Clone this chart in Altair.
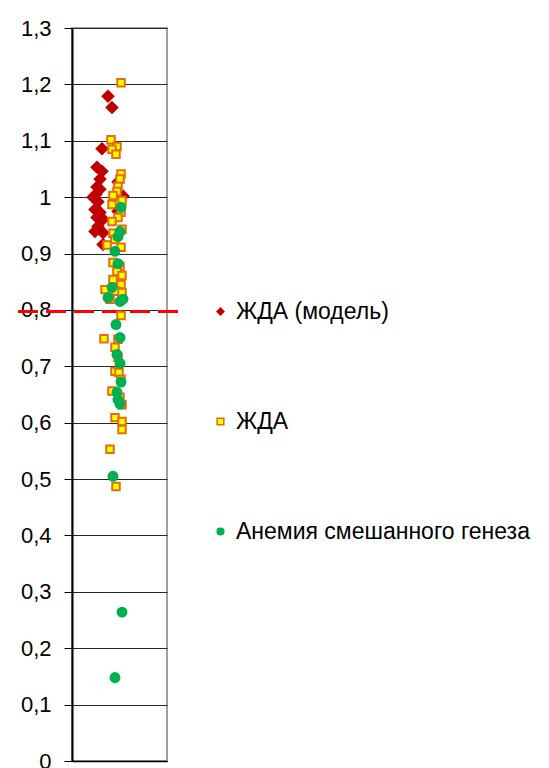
import altair as alt
import pandas as pd

# Series names
series_names = ["ЖДА (модель)", "ЖДА", "Анемия смешанного генеза"]

# ЖДА (модель) — red diamonds
model_x = [0.758, 0.842, 0.632, 0.526, 0.632, 0.589, 0.968, 0.526, 0.589, 0.505, 0.442,
           1.074, 0.547, 0.484, 0.589, 0.968, 0.526, 0.653, 0.547, 0.484, 0.653, 0.653]
model_y = [1.179, 1.159, 1.086, 1.053, 1.046, 1.032, 1.027, 1.018, 1.014, 1.005, 1.000,
           1.002, 0.992, 0.978, 0.973, 0.975, 0.964, 0.961, 0.948, 0.939, 0.937, 0.916]

# ЖДА — yellow squares
ida_x = [1.032, 0.821, 0.947, 0.842, 0.926, 1.032, 1.011, 0.968, 0.947, 0.863, 1.053, 0.842,
         1.032, 0.968, 0.842, 1.053, 0.863, 0.905, 0.737, 1.032, 0.863, 1.011, 0.947, 1.053,
         0.863, 1.032, 0.695, 0.926, 1.053, 0.800, 1.032, 0.674, 0.968, 0.905, 0.968, 0.905,
         0.989, 1.032, 0.842, 1.011, 1.053, 0.905, 1.053, 1.053, 0.800, 0.926]
ida_y = [1.203, 1.102, 1.090, 1.085, 1.076, 1.041, 1.032, 1.019, 1.010, 1.003, 0.994, 0.987,
         0.973, 0.964, 0.957, 0.943, 0.936, 0.925, 0.915, 0.911, 0.884, 0.877, 0.868, 0.861,
         0.854, 0.845, 0.836, 0.833, 0.831, 0.819, 0.790, 0.749, 0.748, 0.734, 0.716, 0.691,
         0.689, 0.677, 0.656, 0.645, 0.632, 0.609, 0.602, 0.588, 0.553, 0.487]

# Анемия смешанного генеза — green circles
mixed_x = [1.032, 1.011, 0.968, 0.905, 0.968, 0.842, 0.758, 1.011, 1.074, 0.926, 1.011,
           0.947, 1.011, 1.032, 0.947, 0.968, 1.011, 0.863, 1.053, 0.905]
mixed_y = [0.982, 0.939, 0.930, 0.904, 0.882, 0.840, 0.822, 0.815, 0.819, 0.774, 0.751,
           0.721, 0.705, 0.672, 0.654, 0.641, 0.633, 0.505, 0.264, 0.148]

# Threshold line
threshold = 0.797

# Y tick values
y_ticks = [0, 0.1, 0.2, 0.3, 0.4, 0.5, 0.6, 0.7, 0.8, 0.9, 1.0, 1.1, 1.2, 1.3]

font = "Liberation Sans"

xscale = alt.Scale(domain=[0, 2])
yscale = alt.Scale(domain=[0, 1.3], nice=False, zero=True)
fill_scale = alt.Scale(domain=series_names, range=["#C00000", "#FFFF00", "#00B050"])
stroke_scale = alt.Scale(domain=series_names, range=["#C00000", "#E46C0A", "#00B050"])
shape_scale = alt.Scale(domain=series_names, range=["diamond", "square", "circle"])

x_axis = alt.Axis(labels=False, ticks=False, grid=False, title=None,
                  domainColor="black", domainWidth=1.5)
y_axis = alt.Axis(values=y_ticks, title=None,
                  labelExpr="replace(format(datum.value, '.1~f'), '.', ',')",
                  labelFontSize=22, labelFont=font, labelColor="black",
                  labelPadding=13, tickSize=8, tickColor="black",
                  domainColor="black", domainWidth=2,
                  grid=True, gridColor="#262626", gridWidth=1)
legend = alt.Legend(title=None, orient="none", legendX=137, legendY=272,
                    labelFontSize=23, labelFont=font, labelColor="black",
                    labelLimit=0, rowPadding=86, symbolSize=45, symbolStrokeWidth=1.5,
                    labelOffset=4)


def series_layer(name, xs, ys, size):
    df = pd.DataFrame({"series": [name] * len(xs), "x": xs, "y": ys})
    return alt.Chart(df).mark_point(filled=True, strokeWidth=2, opacity=1, size=size).encode(
        x=alt.X("x:Q", scale=xscale, axis=x_axis),
        y=alt.Y("y:Q", scale=yscale, axis=y_axis),
        fill=alt.Fill("series:N", scale=fill_scale, legend=legend),
        stroke=alt.Stroke("series:N", scale=stroke_scale, legend=legend),
        shape=alt.Shape("series:N", scale=shape_scale, legend=legend),
    )


rule_df = pd.DataFrame({"y": [threshold]})
rule = alt.Chart(rule_df).mark_rule(color="#FF0000", strokeWidth=3, strokeDash=[20, 8]).encode(
    y=alt.Y("y:Q", scale=yscale, axis=y_axis),
    x=alt.value(-54),
    x2=alt.value(106),
)

chart = alt.layer(
    rule,
    series_layer(series_names[0], model_x, model_y, 115),
    series_layer(series_names[1], ida_x, ida_y, 56),
    series_layer(series_names[2], mixed_x, mixed_y, 80),
).properties(
    width=95,
    height=733,
    autosize=alt.AutoSizeParams(type="none"),
    padding={"left": 72, "top": 28, "right": 382, "bottom": 7},
    background="white",
).configure_view(
    stroke="#A0A0A0",
    strokeWidth=2,
)

chart.save("out.html", embed_options={"renderer": "svg", "actions": False})
